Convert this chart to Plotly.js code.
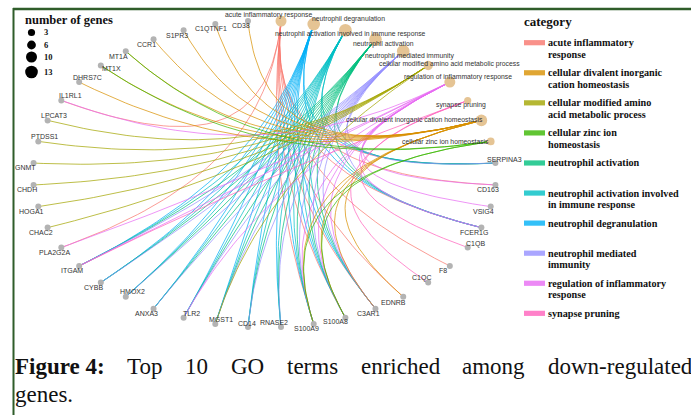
<!DOCTYPE html>
<html>
<head>
<meta charset="utf-8">
<script src="https://cdn.plot.ly/plotly-3.0.1.min.js"></script>
<style>
  html, body { margin: 0; padding: 0; background: #ffffff; }
  #chart { width: 691px; height: 415px; }
</style>
</head>
<body>
<div id="chart"></div>
<script>
// ---- GO terms, in ring order (clockwise from the top) ----
const terms = [
  "acute inflammatory response",
  "neutrophil degranulation",
  "neutrophil activation involved in immune response",
  "neutrophil activation",
  "neutrophil mediated immunity",
  "cellular modified amino acid metabolic process",
  "regulation of inflammatory response",
  "synapse pruning",
  "cellular divalent inorganic cation homeostasis",
  "cellular zinc ion homeostasis"
];

// ---- genes, continuing clockwise after the terms ----
const genes = [
  "SERPINA3", "CD163", "VSIG4", "FCER1G", "C1QB", "F8", "C1QC", "EDNRB",
  "C3AR1", "S100A8", "S100A9", "RNASE2", "CD14", "MGST1", "TLR2", "ANXA3",
  "HMOX2", "CYBB", "ITGAM", "PLA2G2A", "CHAC2", "HOGA1", "CHDH", "GNMT",
  "PTDSS1", "LPCAT3", "IL1RL1", "DHRS7C", "MT1X", "MT1A", "CCR1", "S1PR3",
  "C1QTNF1", "CD38"
];

// ---- gene members of each term ----
const genesAcute = ["F8", "SERPINA3", "CD163", "C3AR1", "EDNRB", "FCER1G", "S100A8", "S100A9", "PLA2G2A", "IL1RL1"];
const genesNeutrophil = ["ITGAM", "CYBB", "HMOX2", "ANXA3", "TLR2", "MGST1", "CD14", "RNASE2", "S100A9", "S100A8", "C3AR1", "FCER1G", "SERPINA3"];
const genesAmino = ["LPCAT3", "PTDSS1", "GNMT", "CHDH", "HOGA1", "CHAC2", "MGST1"];
const genesRegulation = ["IL1RL1", "PLA2G2A", "ITGAM", "TLR2", "S100A8", "S100A9", "C3AR1", "FCER1G", "VSIG4", "CD163"];
const genesSynapse = ["C1QB", "C1QC", "ITGAM"];
const genesDivalent = ["CCR1", "S1PR3", "C1QTNF1", "CD38", "DHRS7C", "MT1A", "MT1X", "EDNRB", "C3AR1", "S100A8", "S100A9"];
const genesZinc = ["MT1A", "MT1X", "S100A8", "S100A9"];

// members aligned with `terms`
const termMembers = [
  genesAcute, genesNeutrophil, genesNeutrophil, genesNeutrophil, genesNeutrophil,
  genesAmino, genesRegulation, genesSynapse, genesDivalent, genesZinc
];

// ---- legend ----
const legendTerms = [
  "acute inflammatory response",
  "cellular divalent inorganic cation homeostasis",
  "cellular modified amino acid metabolic process",
  "cellular zinc ion homeostasis",
  "neutrophil activation",
  "neutrophil activation involved in immune response",
  "neutrophil degranulation",
  "neutrophil mediated immunity",
  "regulation of inflammatory response",
  "synapse pruning"
];
const legendLabels = [
  "acute inflammatory<br>response",
  "cellular divalent inorganic<br>cation homeostasis",
  "cellular modified amino<br>acid metabolic process",
  "cellular zinc ion<br>homeostasis",
  "neutrophil activation",
  "neutrophil activation involved<br>in immune response",
  "neutrophil degranulation",
  "neutrophil mediated<br>immunity",
  "regulation of inflammatory<br>response",
  "synapse pruning"
];
const legendColors = [
  "#F8766D", "#D89000", "#A3A500", "#39B600", "#00BF7D",
  "#00BFC4", "#00B0F6", "#9590FF", "#E76BF3", "#FF62BC"
];
const sizeLegendCounts = [3, 6, 10, 13];

const captionHead = "Figure 4:";
const captionLine1 = "Top 10 GO terms enriched among down-regulated";
const captionLine2 = "genes.";

// ---------------- drawing ----------------
const W = 691, H = 415;
// ring centre and radii in pixels
const CX = 264.5, CY = 174, RX = 231.5, RY = 153.4;
const xRange = [-CX / RX, (W - CX) / RX];
const yRange = [(CY - H) / RY, CY / RY];

function rgba(hex, a) {
  const n = parseInt(hex.slice(1), 16);
  return `rgba(${(n >> 16) & 255},${(n >> 8) & 255},${n & 255},${a})`;
}
function colorOf(term) { return legendColors[legendTerms.indexOf(term)]; }
function diameter(n) { return 5.5 + 0.55 * n; }

// circular layout
const nodes = terms.concat(genes);
const step = 2 * Math.PI / nodes.length;
const pos = {};
nodes.forEach((name, i) => {
  const a = Math.PI / 2 - step / 2 - i * step;
  pos[name] = [Math.cos(a), Math.sin(a)];
});

const traces = [];

// edges: cubic Bézier curves, control points pulled most of the way to the centre
const pull = 0.3;
terms.forEach((term, ti) => {
  const xs = [], ys = [];
  const p0 = pos[term];
  termMembers[ti].forEach(g => {
    const p3 = pos[g];
    const c1 = [p0[0] * pull, p0[1] * pull], c2 = [p3[0] * pull, p3[1] * pull];
    for (let k = 0; k <= 50; k++) {
      const t = k / 50, u = 1 - t;
      const b0 = u * u * u, b1 = 3 * u * u * t, b2 = 3 * u * t * t, b3 = t * t * t;
      xs.push(b0 * p0[0] + b1 * c1[0] + b2 * c2[0] + b3 * p3[0]);
      ys.push(b0 * p0[1] + b1 * c1[1] + b2 * c2[1] + b3 * p3[1]);
    }
    xs.push(null); ys.push(null);
  });
  traces.push({
    type: "scatter", mode: "lines", x: xs, y: ys,
    line: { color: rgba(colorOf(term), 0.8), width: 0.9 },
    hoverinfo: "skip", showlegend: false
  });
});

// gene nodes
traces.push({
  type: "scatter", mode: "markers",
  x: genes.map(g => pos[g][0]), y: genes.map(g => pos[g][1]),
  marker: { color: "#B3B3B3", size: 6, opacity: 1, line: { width: 0 } },
  hoverinfo: "skip", showlegend: false
});
// term nodes
traces.push({
  type: "scatter", mode: "markers",
  x: terms.map(t => pos[t][0]), y: terms.map(t => pos[t][1]),
  marker: { color: "#E5C494", size: termMembers.map(m => diameter(m.length)), opacity: 1, line: { width: 0 } },
  hoverinfo: "skip", showlegend: false
});

// size legend (pixel axes)
const sizeLegendY = [32.5, 45, 57, 72];
traces.push({
  type: "scatter", mode: "markers", xaxis: "x2", yaxis: "y2",
  x: sizeLegendCounts.map(() => 31.5), y: sizeLegendY,
  marker: { color: "#000000", size: sizeLegendCounts.map(diameter), opacity: 1, line: { width: 0 } },
  hoverinfo: "skip", showlegend: false
});

const annotations = [];
const sans = "Liberation Sans, Arial, sans-serif";
const serif = "Liberation Serif, Times New Roman, serif";

// gene labels: default below-left, some pushed elsewhere
const geneLabelShift = {
  HMOX2: [7, -5], TLR2: [8, -4], MGST1: [6, -4], C1QB: [8, -4], SERPINA3: [9, -4],
  DHRS7C: [8, -5], IL1RL1: [9, -5], LPCAT3: [6, -5], PTDSS1: [6, -5],
  MT1X: [11, 3], CD14: [-1, -4], RNASE2: [-7, -5], C1QC: [-7, -4],
  C1QTNF1: [-4, 5], S100A8: [-10, 4], EDNRB: [-10, 6], GNMT: [-8, 4]
};
genes.forEach(g => {
  const s = geneLabelShift[g] || [-7, 5];
  annotations.push({
    x: pos[g][0], y: pos[g][1], xref: "x", yref: "y", text: g, showarrow: false,
    xanchor: "center", yanchor: "middle", xshift: s[0], yshift: -s[1],
    font: { family: sans, size: 7, color: "#333333" }
  });
});

// term labels
const termLabelShift = [
  [-13, -6], [35, -5], [5, 4], [8, 5], [6, 5], [21, -2], [8, -5], [-7, 5], [-67, 0], [-45, 0]
];
terms.forEach((t, i) => {
  annotations.push({
    x: pos[t][0], y: pos[t][1], xref: "x", yref: "y", text: t, showarrow: false,
    xanchor: "center", yanchor: "middle",
    xshift: termLabelShift[i][0], yshift: -termLabelShift[i][1],
    font: { family: sans, size: 6.8, color: "#333333" }
  });
});

// pixel-position helpers (margins are zero, so paper == pixels)
const px = v => v / W, py = v => 1 - v / H;

// size legend text
annotations.push({
  x: px(23), y: py(20), xref: "paper", yref: "paper", text: "<b>number of genes</b>",
  showarrow: false, xanchor: "left", yanchor: "middle",
  font: { family: serif, size: 12.5, color: "#111111" }
});
sizeLegendCounts.forEach((c, i) => {
  annotations.push({
    x: px(42), y: py(sizeLegendY[i]), xref: "paper", yref: "paper", text: "<b>" + c + "</b>",
    showarrow: false, xanchor: "left", yanchor: "middle",
    font: { family: serif, size: 8.5, color: "#111111" }
  });
});

// category legend
const shapes = [];
annotations.push({
  x: px(522), y: py(21), xref: "paper", yref: "paper", text: "<b>category</b>",
  showarrow: false, xanchor: "left", yanchor: "middle",
  font: { family: serif, size: 13, color: "#111111" }
});
legendTerms.forEach((t, i) => {
  const yy = 42.7 + 30.07 * i;
  shapes.push({
    type: "rect", xref: "paper", yref: "paper",
    x0: px(524), x1: px(545), y0: py(yy - 2.6), y1: py(yy + 2.6),
    fillcolor: rgba(legendColors[i], 0.8), line: { width: 0 }, layer: "above"
  });
  legendLabels[i].split("<br>").forEach((line, j) => {
    annotations.push({
      x: px(546), y: py(yy + 11.3 * j), xref: "paper", yref: "paper", text: "<b>" + line + "</b>",
      showarrow: false, xanchor: "left", yanchor: "middle",
      font: { family: serif, size: 10.2, color: "#111111" }
    });
  });
});

// caption, first line justified across the full width
(function () {
  const size = 23;
  const ctx = document.createElement("canvas").getContext("2d");
  const words = [captionHead].concat(captionLine1.split(" "));
  const widths = words.map((w, i) => {
    ctx.font = (i === 0 ? "bold " : "") + size + "px 'Liberation Serif'";
    return ctx.measureText(w).width;
  });
  const left = 13, right = 690;
  const gap = (right - left - widths.reduce((a, b) => a + b, 0)) / (words.length - 1);
  let x = left;
  words.forEach((w, i) => {
    annotations.push({
      x: px(x), y: py(366), xref: "paper", yref: "paper",
      text: i === 0 ? "<b>" + w + "</b>" : w,
      showarrow: false, xanchor: "left", yanchor: "middle",
      font: { family: serif, size: size, color: "#111111" }
    });
    x += widths[i] + gap;
  });
  annotations.push({
    x: px(left), y: py(394), xref: "paper", yref: "paper", text: captionLine2,
    showarrow: false, xanchor: "left", yanchor: "middle",
    font: { family: serif, size: size, color: "#111111" }
  });
})();

// frame lines
shapes.push({ type: "line", xref: "paper", yref: "paper", x0: px(13), x1: 1, y0: py(9), y1: py(9),
  line: { color: "#2f5d2a", width: 2.5 } });
shapes.push({ type: "line", xref: "paper", yref: "paper", x0: px(13.5), x1: px(13.5), y0: py(8), y1: 0,
  line: { color: "#2f5d2a", width: 2 } });

const hidden = { visible: false, fixedrange: true, showgrid: false, zeroline: false };
const layout = {
  width: W, height: H,
  margin: { l: 0, r: 0, t: 0, b: 0, pad: 0 },
  paper_bgcolor: "#ffffff", plot_bgcolor: "#ffffff",
  xaxis: Object.assign({ range: xRange, domain: [0, 1] }, hidden),
  yaxis: Object.assign({ range: yRange, domain: [0, 1] }, hidden),
  xaxis2: Object.assign({ range: [0, W], overlaying: "x", anchor: "y2" }, hidden),
  yaxis2: Object.assign({ range: [H, 0], overlaying: "y", anchor: "x2" }, hidden),
  annotations: annotations,
  shapes: shapes,
  showlegend: false
};

Plotly.newPlot("chart", traces, layout, { staticPlot: true, displayModeBar: false });
</script>
</body>
</html>
